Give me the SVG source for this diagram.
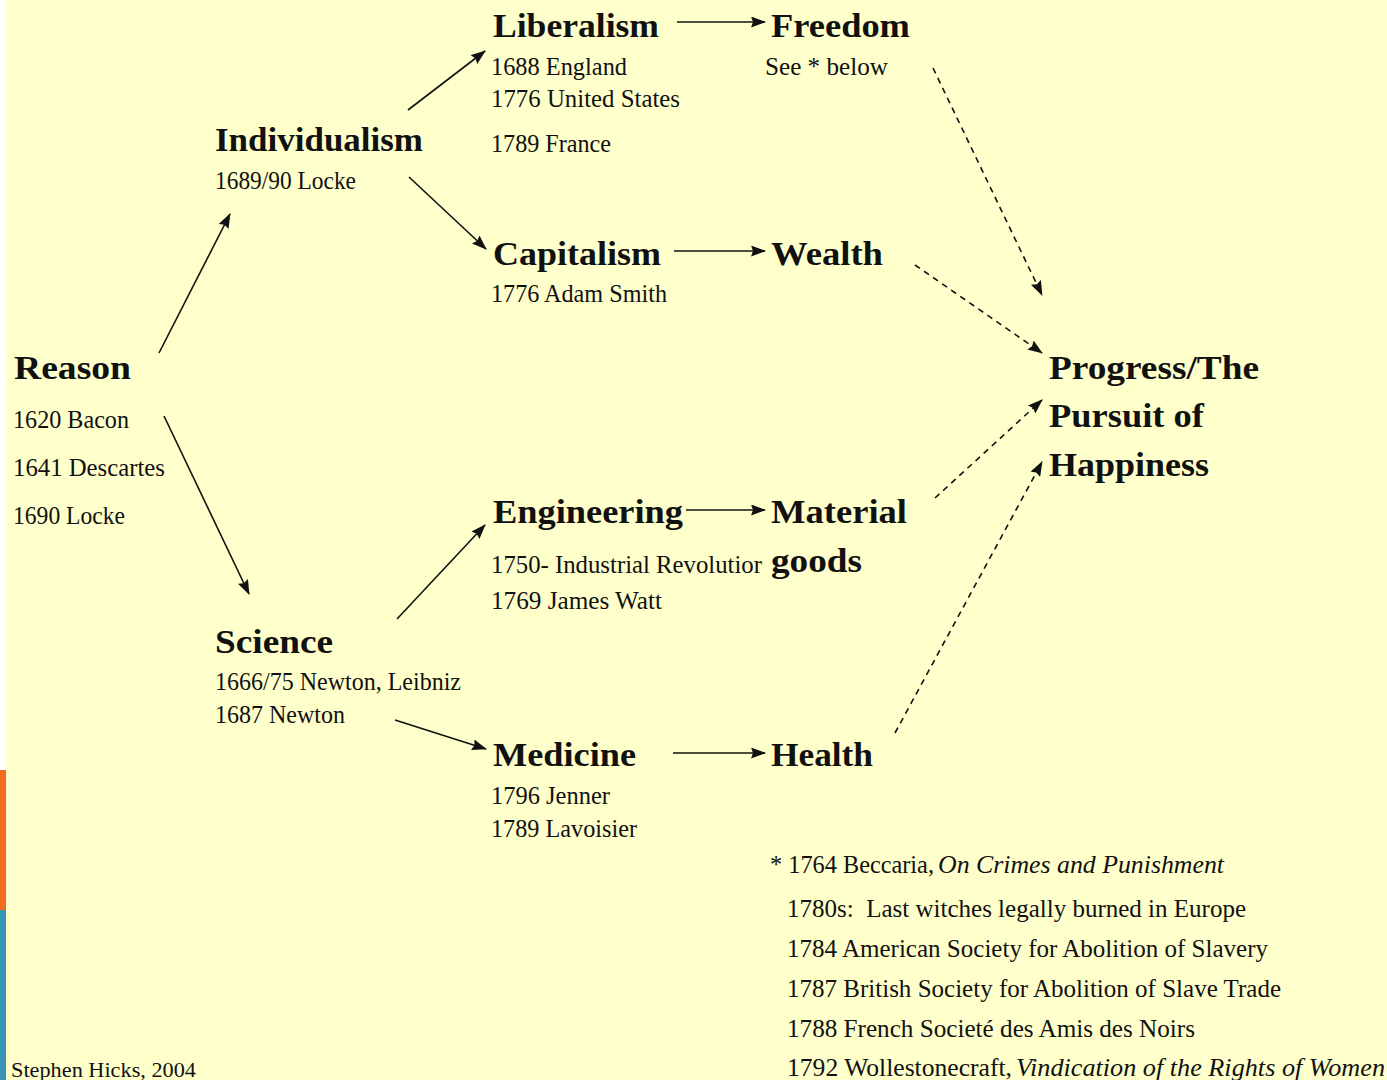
<svg xmlns="http://www.w3.org/2000/svg" width="1387" height="1080" viewBox="0 0 1387 1080">
<style>
text{font-family:"Liberation Serif","Times New Roman",serif;fill:#111}
.h{font-size:33px;font-weight:bold}
.s{font-size:26px}
.i{font-style:italic}
.c{stroke:#111;stroke-width:1.6;fill:none}
.d{stroke:#111;stroke-width:1.6;fill:none;stroke-dasharray:6 5}
</style>
<defs>
<marker id="ah" markerWidth="15" markerHeight="11" refX="14" refY="5.5" orient="auto" markerUnits="userSpaceOnUse">
<path d="M0,0 L15,5.5 L0,11 L2,5.5 Z" fill="#111"/>
</marker>
</defs>
<rect x="0" y="0" width="1387" height="1080" fill="#fff"/>
<rect x="6" y="0" width="1381" height="1080" fill="#FFFFCC"/>
<rect x="0" y="770" width="6" height="140" fill="#F26B22"/>
<rect x="0" y="910" width="6" height="170" fill="#3A95B5"/>

<g id="connectors">
<line class="c" x1="159" y1="353" x2="230" y2="214" marker-end="url(#ah)"/>
<line class="c" x1="164" y1="416" x2="249" y2="594" marker-end="url(#ah)"/>
<line class="c" x1="408" y1="110" x2="485" y2="51" marker-end="url(#ah)"/>
<line class="c" x1="409" y1="177" x2="486" y2="249" marker-end="url(#ah)"/>
<line class="c" x1="397" y1="619" x2="485" y2="525" marker-end="url(#ah)"/>
<line class="c" x1="395" y1="720" x2="486" y2="749" marker-end="url(#ah)"/>
<line class="c" x1="677" y1="22" x2="765" y2="22" marker-end="url(#ah)"/>
<line class="c" x1="674" y1="251" x2="765" y2="251" marker-end="url(#ah)"/>
<line class="c" x1="686" y1="510" x2="765" y2="510" marker-end="url(#ah)"/>
<line class="c" x1="673" y1="753" x2="765" y2="753" marker-end="url(#ah)"/>
<line class="d" x1="933" y1="68" x2="1042" y2="295" marker-end="url(#ah)"/>
<line class="d" x1="915" y1="265" x2="1042" y2="353" marker-end="url(#ah)"/>
<line class="d" x1="935" y1="498" x2="1042" y2="400" marker-end="url(#ah)"/>
<line class="d" x1="895" y1="733" x2="1042" y2="462" marker-end="url(#ah)"/>
</g>

<g id="reason">
<text class="h" x="14" y="379" textLength="117" lengthAdjust="spacingAndGlyphs">Reason</text>
<text class="s" x="13" y="428" textLength="116" lengthAdjust="spacingAndGlyphs">1620 Bacon</text>
<text class="s" x="13" y="476" textLength="152" lengthAdjust="spacingAndGlyphs">1641 Descartes</text>
<text class="s" x="13" y="524" textLength="112" lengthAdjust="spacingAndGlyphs">1690 Locke</text>
</g>

<g id="individualism">
<text class="h" x="215" y="151" textLength="208" lengthAdjust="spacingAndGlyphs">Individualism</text>
<text class="s" x="215" y="189" textLength="141" lengthAdjust="spacingAndGlyphs">1689/90 Locke</text>
</g>

<g id="liberalism">
<text class="h" x="493" y="37" textLength="166" lengthAdjust="spacingAndGlyphs">Liberalism</text>
<text class="s" x="491" y="75" textLength="136" lengthAdjust="spacingAndGlyphs">1688 England</text>
<text class="s" x="491" y="107" textLength="189" lengthAdjust="spacingAndGlyphs">1776 United States</text>
<text class="s" x="491" y="152" textLength="120" lengthAdjust="spacingAndGlyphs">1789 France</text>
</g>

<g id="freedom">
<text class="h" x="771" y="37" textLength="139" lengthAdjust="spacingAndGlyphs">Freedom</text>
<text class="s" x="765" y="75" textLength="123" lengthAdjust="spacingAndGlyphs">See * below</text>
</g>

<g id="capitalism">
<text class="h" x="493" y="265" textLength="168" lengthAdjust="spacingAndGlyphs">Capitalism</text>
<text class="s" x="491" y="302" textLength="176" lengthAdjust="spacingAndGlyphs">1776 Adam Smith</text>
</g>

<g id="wealth">
<text class="h" x="771" y="265" textLength="112" lengthAdjust="spacingAndGlyphs">Wealth</text>
</g>

<g id="science">
<text class="h" x="215" y="653" textLength="118" lengthAdjust="spacingAndGlyphs">Science</text>
<text class="s" x="215" y="690" textLength="246" lengthAdjust="spacingAndGlyphs">1666/75 Newton, Leibniz</text>
<text class="s" x="215" y="723" textLength="130" lengthAdjust="spacingAndGlyphs">1687 Newton</text>
</g>

<g id="engineering">
<text class="h" x="493" y="523" textLength="190" lengthAdjust="spacingAndGlyphs">Engineering</text>
<text class="s" x="491" y="573" textLength="271" lengthAdjust="spacingAndGlyphs">1750- Industrial Revolutior</text>
<text class="s" x="491" y="609" textLength="171" lengthAdjust="spacingAndGlyphs">1769 James Watt</text>
</g>

<g id="material">
<text class="h" x="771" y="523" textLength="136" lengthAdjust="spacingAndGlyphs">Material</text>
<text class="h" x="771" y="572" textLength="91" lengthAdjust="spacingAndGlyphs">goods</text>
</g>

<g id="medicine">
<text class="h" x="493" y="766" textLength="143" lengthAdjust="spacingAndGlyphs">Medicine</text>
<text class="s" x="491" y="804" textLength="119" lengthAdjust="spacingAndGlyphs">1796 Jenner</text>
<text class="s" x="491" y="837" textLength="146" lengthAdjust="spacingAndGlyphs">1789 Lavoisier</text>
</g>

<g id="health">
<text class="h" x="771" y="766" textLength="102" lengthAdjust="spacingAndGlyphs">Health</text>
</g>

<g id="progress">
<text class="h" x="1049" y="379" textLength="210" lengthAdjust="spacingAndGlyphs">Progress/The</text>
<text class="h" x="1049" y="427" textLength="155" lengthAdjust="spacingAndGlyphs">Pursuit of</text>
<text class="h" x="1049" y="476" textLength="160" lengthAdjust="spacingAndGlyphs">Happiness</text>
</g>

<g id="notes">
<text class="s" x="770" y="873" textLength="164" lengthAdjust="spacingAndGlyphs">* 1764 Beccaria,</text>
<text class="s i" x="938" y="873" textLength="286" lengthAdjust="spacingAndGlyphs">On Crimes and Punishment</text>
<text class="s" x="787" y="917" textLength="459" lengthAdjust="spacingAndGlyphs" xml:space="preserve">1780s:  Last witches legally burned in Europe</text>
<text class="s" x="787" y="957" textLength="481" lengthAdjust="spacingAndGlyphs">1784 American Society for Abolition of Slavery</text>
<text class="s" x="787" y="997" textLength="494" lengthAdjust="spacingAndGlyphs">1787 British Society for Abolition of Slave Trade</text>
<text class="s" x="787" y="1037" textLength="408" lengthAdjust="spacingAndGlyphs">1788 French Societé des Amis des Noirs</text>
<text class="s" x="787" y="1076" textLength="225" lengthAdjust="spacingAndGlyphs">1792 Wollestonecraft,</text>
<text class="s i" x="1016" y="1076" textLength="369" lengthAdjust="spacingAndGlyphs">Vindication of the Rights of Women</text>
</g>

<g id="credit">
<text x="11" y="1077" font-size="21" textLength="185" lengthAdjust="spacingAndGlyphs">Stephen Hicks, 2004</text>
</g>
</svg>
